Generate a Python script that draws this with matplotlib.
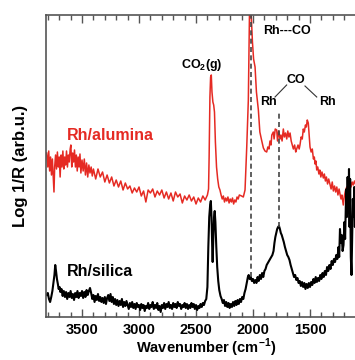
import matplotlib
matplotlib.use("Agg")
import matplotlib.pyplot as plt
from matplotlib.ticker import FixedLocator, MultipleLocator

plt.rcParams['font.family'] = ['Liberation Sans', 'DejaVu Sans']
plt.rcParams['font.weight'] = 'bold'
plt.rcParams['mathtext.fontset'] = 'custom'
plt.rcParams['mathtext.rm'] = 'Liberation Sans:bold'
plt.rcParams['mathtext.bf'] = 'Liberation Sans:bold'

# Rh/alumina spectrum (wavenumber, intensity in arbitrary units)
alumina = [
    (3810, 164), (3800, 150), (3792, 166), (3784, 146), (3776, 160), (3768, 142),
    (3760, 158), (3752, 138), (3746, 125), (3740, 150), (3732, 162), (3724, 148),
    (3716, 165), (3708, 150), (3700, 160), (3692, 140), (3684, 162), (3676, 150),
    (3668, 166), (3660, 148), (3652, 160), (3644, 152), (3636, 166), (3628, 150),
    (3620, 162), (3612, 155), (3604, 168), (3598, 172), (3590, 150), (3582, 164),
    (3574, 155), (3566, 167), (3558, 150), (3550, 162), (3542, 146), (3534, 160),
    (3526, 150), (3518, 163), (3510, 144), (3500, 157), (3490, 146), (3480, 158),
    (3470, 142), (3460, 154), (3450, 140), (3440, 152), (3430, 144), (3420, 150),
    (3410, 141), (3400, 148), (3380, 138), (3360, 148), (3340, 140), (3320, 145),
    (3300, 135), (3280, 142), (3260, 134), (3240, 140), (3220, 131), (3200, 137),
    (3180, 130), (3160, 136), (3140, 127), (3120, 134), (3100, 128), (3080, 131),
    (3060, 124), (3040, 129), (3020, 125), (3000, 130), (2980, 121), (2960, 126),
    (2940, 115), (2920, 127), (2900, 124), (2880, 128), (2860, 120), (2840, 126),
    (2820, 122), (2800, 127), (2780, 119), (2760, 125), (2740, 118), (2720, 124),
    (2700, 116), (2680, 125), (2660, 120), (2640, 123), (2620, 114), (2600, 121),
    (2580, 117), (2560, 122), (2540, 116), (2520, 120), (2500, 113), (2480, 119),
    (2460, 115), (2440, 121), (2420, 117), (2400, 122), (2390, 128), (2385, 160),
    (2378, 220), (2372, 240), (2366, 242), (2360, 225), (2352, 215), (2345, 212),
    (2338, 205), (2330, 175), (2320, 150), (2310, 138), (2300, 130), (2290, 127),
    (2280, 122), (2270, 118), (2260, 121), (2250, 115), (2240, 119), (2230, 116),
    (2220, 120), (2210, 114), (2200, 118), (2190, 115), (2180, 119), (2170, 113),
    (2160, 117), (2150, 115), (2140, 120), (2130, 118), (2120, 122), (2100, 121),
    (2085, 120), (2070, 127), (2055, 170), (2041, 217), (2030, 312), (2022, 318),
    (2015, 300), (2005, 275), (1995, 258), (1982, 250), (1970, 225), (1953, 207),
    (1940, 185), (1925, 177), (1909, 169), (1895, 166), (1880, 165), (1870, 170),
    (1860, 168), (1851, 176), (1842, 172), (1835, 182), (1822, 185), (1815, 178),
    (1805, 188), (1792, 187), (1785, 176), (1775, 186), (1763, 178), (1755, 182),
    (1745, 176), (1734, 188), (1725, 180), (1715, 184), (1704, 178), (1695, 186),
    (1685, 180), (1675, 184), (1665, 176), (1655, 172), (1646, 168), (1635, 172),
    (1625, 165), (1617, 168), (1605, 172), (1595, 168), (1588, 172), (1578, 180),
    (1568, 178), (1559, 188), (1550, 185), (1540, 192), (1532, 190), (1524, 197),
    (1515, 194), (1508, 183), (1500, 170), (1490, 165), (1480, 168), (1470, 158),
    (1462, 160), (1456, 153), (1448, 156), (1441, 147), (1432, 150), (1422, 143),
    (1414, 147), (1405, 140), (1395, 145), (1383, 139), (1374, 143), (1365, 136),
    (1356, 140), (1346, 133), (1336, 138), (1325, 133), (1315, 128), (1305, 135),
    (1295, 126), (1285, 131), (1275, 125), (1265, 130), (1255, 122), (1245, 128),
    (1237, 123), (1228, 118), (1220, 122), (1208, 112), (1200, 120), (1190, 126),
    (1178, 130), (1168, 125), (1158, 133), (1149, 137), (1140, 130), (1130, 135),
    (1120, 132), (1110, 136), (1100, 133),
]

# Rh/silica spectrum
silica = [
    (3810, 22), (3800, 24), (3790, 18), (3780, 15), (3770, 20), (3760, 26),
    (3750, 35), (3742, 42), (3735, 52), (3728, 46), (3720, 38), (3712, 33),
    (3705, 28), (3697, 30), (3690, 25), (3680, 28), (3670, 21), (3660, 26),
    (3650, 20), (3640, 25), (3630, 18), (3620, 24), (3610, 20), (3600, 26),
    (3590, 19), (3580, 23), (3570, 17), (3560, 24), (3550, 20), (3540, 26),
    (3530, 19), (3520, 24), (3510, 21), (3500, 26), (3490, 19), (3480, 25),
    (3470, 20), (3460, 27), (3450, 22), (3440, 26), (3430, 29), (3420, 24),
    (3410, 18), (3400, 22), (3390, 15), (3380, 21), (3370, 17), (3360, 23),
    (3350, 16), (3340, 20), (3330, 15), (3320, 19), (3310, 14), (3300, 20),
    (3290, 13), (3280, 19), (3270, 22), (3260, 16), (3250, 23), (3240, 15),
    (3230, 20), (3220, 13), (3210, 18), (3200, 12), (3190, 17), (3180, 11),
    (3170, 16), (3160, 12), (3150, 18), (3140, 10), (3130, 15), (3120, 11),
    (3110, 16), (3100, 12), (3090, 8), (3080, 14), (3070, 10), (3060, 15),
    (3050, 9), (3040, 13), (3030, 8), (3020, 14), (3010, 10), (3000, 12),
    (2990, 7), (2980, 13), (2970, 9), (2960, 12), (2950, 6), (2940, 11),
    (2930, 9), (2920, 14), (2910, 8), (2900, 12), (2890, 10), (2880, 15),
    (2870, 8), (2860, 12), (2850, 9), (2840, 14), (2830, 7), (2820, 11),
    (2810, 5), (2800, 12), (2790, 9), (2780, 14), (2770, 8), (2760, 13),
    (2750, 10), (2740, 15), (2730, 9), (2720, 12), (2710, 8), (2700, 14),
    (2690, 10), (2680, 13), (2670, 9), (2660, 15), (2650, 11), (2640, 13),
    (2630, 8), (2620, 12), (2610, 10), (2600, 14), (2590, 9), (2580, 13),
    (2570, 8), (2560, 12), (2550, 9), (2540, 14), (2530, 10), (2520, 13),
    (2510, 8), (2500, 12), (2490, 7), (2480, 11), (2470, 9), (2460, 13),
    (2450, 10), (2440, 14), (2430, 12), (2420, 16), (2410, 18), (2400, 30),
    (2392, 70), (2384, 100), (2376, 112), (2370, 116), (2364, 100), (2358, 70),
    (2354, 55), (2348, 80), (2342, 100), (2336, 106), (2330, 95), (2322, 70),
    (2314, 50), (2305, 36), (2296, 27), (2285, 21), (2275, 18), (2265, 14),
    (2255, 17), (2245, 11), (2235, 15), (2225, 10), (2215, 14), (2205, 9),
    (2195, 13), (2185, 10), (2175, 15), (2165, 11), (2155, 16), (2145, 12),
    (2135, 17), (2125, 13), (2115, 18), (2105, 15), (2095, 20), (2085, 18),
    (2075, 24), (2065, 28), (2055, 34), (2045, 40), (2038, 42), (2030, 38),
    (2020, 40), (2010, 36), (2000, 38), (1990, 34), (1980, 37), (1970, 34),
    (1960, 40), (1950, 36), (1940, 42), (1930, 38), (1920, 44), (1910, 40),
    (1900, 46), (1890, 48), (1880, 52), (1870, 54), (1860, 56), (1850, 58),
    (1840, 60), (1830, 62), (1820, 66), (1812, 74), (1804, 80), (1796, 84),
    (1788, 88), (1780, 90), (1772, 91), (1764, 88), (1756, 84), (1748, 82),
    (1740, 79), (1730, 75), (1720, 70), (1710, 66), (1700, 62), (1690, 60),
    (1680, 57), (1670, 52), (1660, 48), (1650, 44), (1640, 40), (1630, 42),
    (1620, 37), (1610, 39), (1600, 34), (1590, 36), (1580, 31), (1570, 35),
    (1560, 30), (1550, 34), (1540, 28), (1530, 33), (1520, 29), (1510, 34),
    (1500, 30), (1490, 35), (1480, 32), (1470, 38), (1460, 34), (1450, 40),
    (1440, 35), (1430, 39), (1420, 36), (1410, 42), (1400, 38), (1390, 44),
    (1380, 40), (1370, 46), (1360, 42), (1350, 50), (1340, 46), (1330, 52),
    (1320, 48), (1310, 56), (1300, 52), (1290, 58), (1280, 55), (1270, 62),
    (1260, 58), (1250, 70), (1244, 60), (1237, 88), (1230, 74), (1222, 82),
    (1214, 66), (1206, 72), (1198, 95), (1192, 78), (1186, 110), (1180, 128),
    (1176, 100), (1170, 140), (1164, 104), (1158, 148), (1153, 90), (1148, 138),
    (1142, 60), (1136, 42), (1130, 80), (1124, 118), (1118, 100), (1112, 130),
    (1106, 90), (1100, 120),
]

# dashed marker lines: (wavenumber, bottom, top)
markers = [(2018, 40, 302), (1773, 90, 205)]

major_ticks = [3500, 3000, 2500, 2000, 1500]

red = '#e52a23'
fig = plt.figure(figsize=(3.55, 3.6), dpi=100)
ax = fig.add_axes([46 / 355, 43 / 360, 321 / 355, 302 / 360])

x, y = zip(*alumina)
ax.plot(x, y, color=red, lw=1.1)
x, y = zip(*silica)
ax.plot(x, y, color='black', lw=1.5)

for wn, lo, hi in markers:
    ax.vlines(wn, lo, hi, colors='#444444', linestyles=(0, (3, 2)), lw=1.2)

ax.set_xlim(3816, 1000)
ax.set_ylim(0, 302)

ax.text(3254, 181, 'Rh/alumina', color=red, fontsize=11.5, fontweight='bold',
        ha='center', va='center')
ax.text(3342, 45, 'Rh/silica', color='black', fontsize=11.5, fontweight='bold',
        ha='center', va='center')
ax.text(2447, 252, r'CO$_\mathbf{2}$(g)', fontsize=9, fontweight='bold',
        ha='center', va='center')
ax.text(1702, 286, 'Rh---CO', fontsize=9, fontweight='bold', ha='center', va='center')
ax.text(1623, 237, 'CO', fontsize=9, fontweight='bold', ha='center', va='center')
ax.text(1868, 215, 'Rh', fontsize=9, fontweight='bold', ha='center', va='center')
ax.text(1351, 215, 'Rh', fontsize=9, fontweight='bold', ha='center', va='center')
ax.plot([1705, 1807], [232, 220], color='#333333', lw=0.8)
ax.plot([1544, 1441], [231, 220], color='#333333', lw=0.8)

ax.xaxis.set_major_locator(FixedLocator(major_ticks))
ax.xaxis.set_minor_locator(MultipleLocator(100))
ax.tick_params(axis='x', which='both', direction='in', top=True, bottom=True,
               colors='#555555', labelcolor='black', labelsize=10.5, pad=4.5)
ax.tick_params(axis='x', which='major', length=6, width=1.0)
ax.tick_params(axis='x', which='minor', length=3.5, width=1.0)
ax.tick_params(axis='y', left=False, labelleft=False)
for lab in ax.get_xticklabels():
    lab.set_fontweight('bold')
for s in ax.spines.values():
    s.set_color('#555555')
    s.set_linewidth(1.2)

ax.set_xlabel(r'Wavenumber (cm$^{\mathbf{-1}}$)', fontsize=10.5, fontweight='bold',
              labelpad=-0.5)
ax.set_ylabel('Log 1/R (arb.u.)', fontsize=12, fontweight='bold', labelpad=13)

fig.savefig('out.png', dpi=100)
